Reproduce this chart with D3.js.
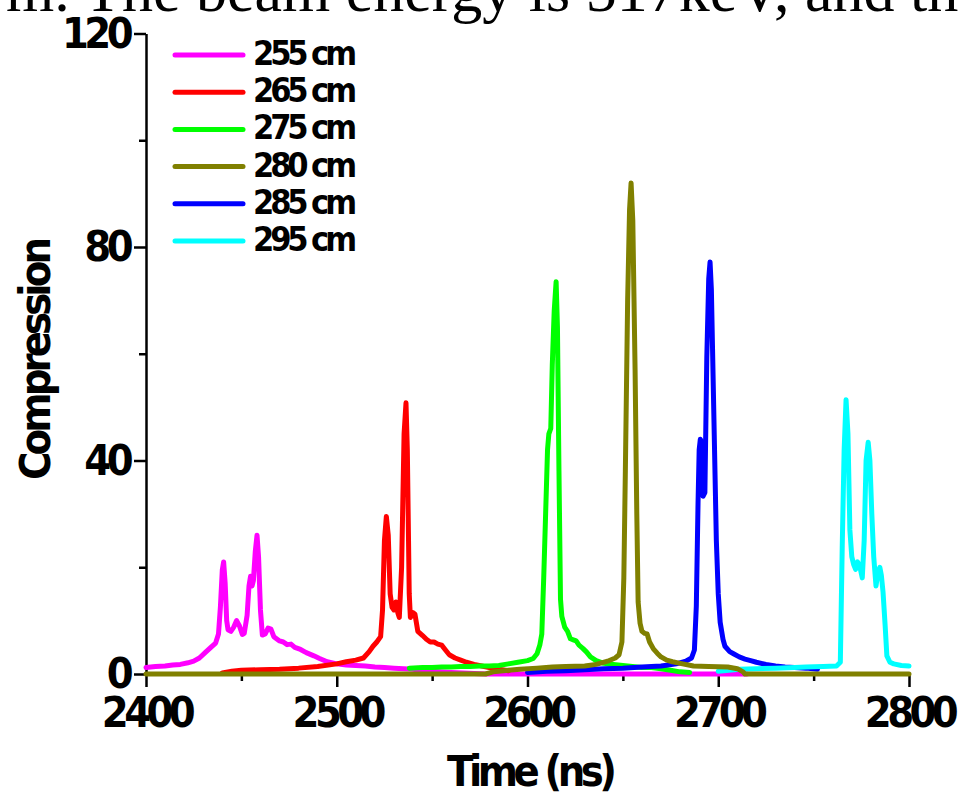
<!DOCTYPE html>
<html>
<head>
<meta charset="utf-8">
<script src="https://cdn.jsdelivr.net/npm/d3@7"></script>
<style>
  body { margin: 0; background: #fff; }
  svg { display: block; }
  .tick text { font-family: "DejaVu Sans Condensed", "DejaVu Sans", sans-serif; font-stretch: condensed; font-weight: bold; }
</style>
</head>
<body>
<script>
// series: [time (ns), compression]
const s255 = [[2400,1.2],[2405,1.4],[2410,1.5],[2414,1.7],[2418,1.8],[2422,2.1],[2425,2.4],[2428,3.0],[2431,4.0],[2434,5.0],[2436.5,5.8],[2438,7.5],[2439,12.5],[2440,19.5],[2440.7,21],[2441.5,17],[2442.3,10],[2443,8.3],[2444.5,8.0],[2446,8.8],[2447.5,10],[2449,9.0],[2450.5,7.4],[2451.5,7.6],[2453,11],[2454,16.5],[2454.8,18.3],[2455.6,16.5],[2456.3,17.5],[2457.3,23],[2458.2,26],[2459,22],[2460,12],[2461,7.3],[2462.5,7.5],[2464,8.6],[2465.5,8.4],[2467,7],[2470,6.2],[2472,6.0],[2474,5.5],[2476,5.6],[2478,5.0],[2481,4.6],[2484,4.0],[2488,3.4],[2491,2.9],[2495,2.3],[2500,1.9],[2505,1.7],[2510,1.6],[2515,1.5],[2520,1.3],[2525,1.2],[2530,1.1],[2535,1.0],[2540,0.9],[2545,0.6],[2560,0.3],[2578,0],[2715,0]];
const s265 = [[2440,0.2],[2445,0.5],[2450,0.7],[2460,0.8],[2470,0.9],[2480,1.1],[2490,1.4],[2500,1.9],[2505,2.3],[2510,2.6],[2514,3.0],[2517,4.2],[2519,5.2],[2521,6.0],[2523,7.0],[2524,12],[2525,25],[2526,29.5],[2527,26],[2528,15],[2529,12.5],[2530,12],[2531,13.5],[2532,11.5],[2532.8,10.6],[2534,20],[2535.3,45],[2536.3,50.8],[2537,42],[2538,15],[2538.6,10.6],[2540,11.5],[2541,11.2],[2542.5,8],[2545,7.2],[2547,6.5],[2549,6.0],[2551,6.0],[2553,5.6],[2555,5.4],[2557,4.5],[2559,3.6],[2562,3.0],[2565,2.6],[2568,2.2],[2572,1.8],[2576,1.5],[2580,1.2],[2585,0.9],[2590,0.6]];
const s275 = [[2538,1.1],[2545,1.2],[2550,1.2],[2555,1.3],[2560,1.3],[2565,1.4],[2570,1.4],[2575,1.5],[2580,1.5],[2585,1.6],[2590,1.9],[2595,2.2],[2600,2.5],[2603,2.9],[2605,3.8],[2606.5,5.5],[2607.5,7.5],[2608.5,18],[2609.5,30],[2610.5,42],[2611.2,45],[2612.2,46],[2613,58],[2614,68],[2615,73.5],[2615.7,65],[2616.5,38],[2617.3,14],[2618,10.8],[2619.5,8.8],[2621,8],[2622.5,6.6],[2624,6.4],[2625.5,6.2],[2627,5.4],[2629,4.8],[2631,4.1],[2633,3.2],[2636,2.5],[2640,2.0],[2645,1.8],[2650,1.6],[2655,1.4],[2660,1.2],[2665,1.2],[2670,1.0],[2675,0.7],[2680,0.4],[2685,0.3]];
const s280 = [[2400,0],[2578,0],[2582,0.4],[2590,0.7],[2596,0.9],[2605,1.1],[2613,1.3],[2620,1.4],[2630,1.5],[2636,1.8],[2642,2.4],[2646,3.0],[2648,3.6],[2649.5,6],[2650.5,18],[2651.3,38],[2652.5,70],[2653.5,87],[2654.3,92],[2655.2,85],[2656.4,57],[2657.3,30],[2658,13.5],[2659,9.5],[2660,8.0],[2661.5,7.6],[2662.7,7.5],[2664,6.0],[2666,4.7],[2668,3.9],[2670,3.2],[2673,2.6],[2676,2.3],[2680,2.0],[2687,1.5],[2695,1.4],[2705,1.3],[2710,1.0],[2713,0.4],[2714,0],[2800,0]];
const s285 = [[2600,0.3],[2610,0.5],[2620,0.6],[2630,0.8],[2640,1.0],[2650,1.1],[2660,1.3],[2670,1.5],[2678,1.9],[2683,2.4],[2686,3.0],[2687.5,4.5],[2688.5,12.7],[2689.4,32],[2690,42],[2690.6,44],[2691.3,43.4],[2692,33.3],[2693,34],[2694,59.4],[2695,74],[2695.7,77.2],[2696.4,72],[2697,61],[2698,43],[2699,25],[2700,15],[2701,9.7],[2702.5,6.5],[2703.5,5.2],[2706,4.2],[2708,3.8],[2711,3.2],[2714,2.8],[2717,2.5],[2720,2.2],[2725,1.8],[2730,1.5],[2735,1.3],[2740,1.2],[2746,1.1],[2752,0.9]];
const s295 = [[2700,0.5],[2711,0.9],[2720,1.0],[2730,1.1],[2740,1.2],[2746,1.3],[2755,1.4],[2762,1.5],[2764,2.2],[2765,24],[2766,42],[2767,51.4],[2768,45],[2769,27],[2770,22],[2771,20.5],[2772,19.6],[2773,21],[2774,20.5],[2775.5,18],[2776.5,25],[2777.5,40],[2778.6,43.4],[2779.5,40],[2780.5,30],[2781.5,22],[2782.7,16.5],[2783.7,19],[2784.7,20],[2785.5,18.5],[2786.4,15.3],[2787.5,9],[2788.4,3.4],[2790,2.2],[2792,1.9],[2796,1.6],[2800,1.5]];

const labels = ['255 cm', '265 cm', '275 cm', '280 cm', '285 cm', '295 cm'];
const colors = ['#ff00ff', '#ff0000', '#00ff00', '#808000', '#0000ff', '#00ffff'];
const seriesData = [s255, s265, s275, s280, s285, s295];
const drawOrder = [0, 1, 2, 4, 5, 3];

const xMajor = [2400, 2500, 2600, 2700, 2800];
const xMinor = [2450, 2550, 2650, 2750];
const yMajor = [0, 40, 80, 120];
const yMinor = [20, 60, 100];

const width = 972;
const height = 796;
const fontSans = '"DejaVu Sans Condensed", "DejaVu Sans", sans-serif';

const svg = d3.select('body').append('svg')
  .attr('width', width)
  .attr('height', height);

// stray caption line from the page above the figure
svg.append('text')
  .attr('x', 6)
  .attr('y', 11)
  .attr('font-family', '"Liberation Serif", "DejaVu Serif", serif')
  .attr('font-size', 62)
  .text('m. The beam energy is 517keV, and th');

const x = d3.scaleLinear().domain([2400, 2800]).range([146, 909]);
const y = d3.scaleLinear().domain([0, 120]).range([674, 33.5]);

// minor ticks
svg.append('g')
  .attr('transform', 'translate(0,674)')
  .call(d3.axisBottom(x).tickValues(xMinor).tickSize(7).tickSizeOuter(0).tickFormat(''))
  .call(g => g.select('.domain').remove())
  .call(g => g.selectAll('line').attr('stroke-width', 2.5));

svg.append('g')
  .attr('transform', 'translate(146,0)')
  .call(d3.axisLeft(y).tickValues(yMinor).tickSize(7).tickSizeOuter(0).tickFormat(''))
  .call(g => g.select('.domain').remove())
  .call(g => g.selectAll('line').attr('stroke-width', 2.5));

// major axes
const xAxis = svg.append('g')
  .attr('transform', 'translate(0,674)')
  .call(d3.axisBottom(x).tickValues(xMajor).tickSize(13).tickSizeOuter(0).tickPadding(9).tickFormat(d3.format('d')));

const yAxis = svg.append('g')
  .attr('transform', 'translate(146,0)')
  .call(d3.axisLeft(y).tickValues(yMajor).tickSize(12).tickSizeOuter(0).tickPadding(5).tickFormat(d3.format('d')));

[xAxis, yAxis].forEach(g => {
  g.select('.domain').attr('stroke-width', 2.5);
  g.selectAll('.tick line').attr('stroke-width', 2.5);
  g.selectAll('.tick text')
    .attr('font-size', 43)
    .attr('fill', '#000')
    .style('letter-spacing', '-4.6px');
});

// axis titles
svg.append('text')
  .attr('x', 447)
  .attr('y', 786)
  .attr('font-family', fontSans)
  .attr('font-weight', 'bold')
  .attr('font-size', 43)
  .attr('textLength', 170)
  .attr('lengthAdjust', 'spacing')
  .text('Time (ns)');

svg.append('text')
  .attr('transform', 'translate(50,480) rotate(-90)')
  .attr('font-family', fontSans)
  .attr('font-weight', 'bold')
  .attr('font-size', 43)
  .attr('textLength', 243)
  .attr('lengthAdjust', 'spacing')
  .text('Compression');

// curves
const line = d3.line()
  .x(d => x(d[0]))
  .y(d => y(d[1]));

svg.append('g')
  .selectAll('path')
  .data(drawOrder)
  .enter().append('path')
  .attr('d', i => line(seriesData[i]))
  .attr('fill', 'none')
  .attr('stroke', i => colors[i])
  .attr('stroke-width', 5)
  .attr('stroke-linejoin', 'round')
  .attr('stroke-linecap', 'round');

// legend
const legend = svg.append('g')
  .selectAll('g')
  .data(labels)
  .enter().append('g')
  .attr('transform', (d, i) => `translate(0,${55 + i * 37.2})`);

legend.append('line')
  .attr('x1', 175)
  .attr('x2', 243)
  .attr('stroke', (d, i) => colors[i])
  .attr('stroke-width', 5)
  .attr('stroke-linecap', 'round');

legend.append('text')
  .attr('x', 253)
  .attr('y', 10)
  .attr('font-family', fontSans)
  .attr('font-weight', 'bold')
  .attr('font-size', 34)
  .attr('textLength', 104)
  .attr('lengthAdjust', 'spacing')
  .text(d => d);
</script>
</body>
</html>
